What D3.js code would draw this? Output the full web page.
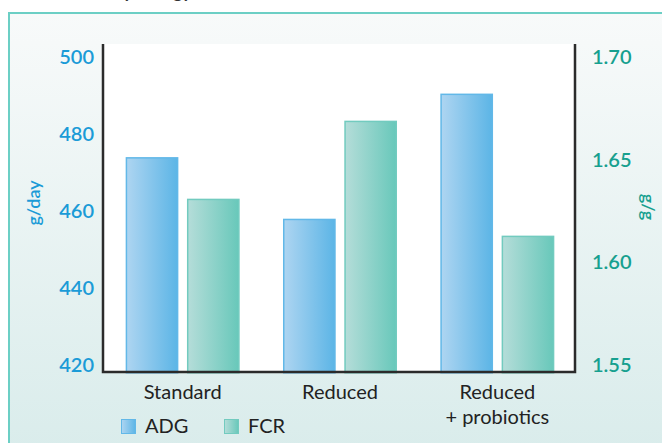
<!DOCTYPE html>
<html lang="en">
<head>
    <meta charset="UTF-8">
    <title>ADG and FCR by diet</title>
    <script src="https://d3js.org/d3.v7.min.js"></script>
    <style>
        body, html { margin: 0; padding: 0; background: #fff; }
        svg { display: block; font-family: Lato, "Open Sans", sans-serif; }
    </style>
</head>
<body>
    <div id="chart"></div>
    <script>
        // Data
        const categories = ["Standard", "Reduced", "Reduced\n+ probiotics"];
        const adgValues = [474, 458, 490.5];      // g/day, left axis
        const fcrValues = [1.631, 1.669, 1.613];  // g/g, right axis
        const adgTicks = [420, 440, 460, 480, 500];
        const fcrTicks = [1.55, 1.60, 1.65, 1.70];
        const seriesNames = ["ADG", "FCR"];

        const width = 662, height = 443;
        const svg = d3.select("#chart").append("svg")
            .attr("width", width)
            .attr("height", height);

        const defs = svg.append("defs");

        // Background panel gradient
        const bg = defs.append("linearGradient").attr("id", "bg")
            .attr("x1", 0).attr("y1", 0).attr("x2", 0).attr("y2", 1);
        bg.append("stop").attr("offset", "0%").attr("stop-color", "#f8fafa");
        bg.append("stop").attr("offset", "100%").attr("stop-color", "#d9eceb");

        // Bar gradients
        function barGradient(id, c1, c2) {
            const g = defs.append("linearGradient").attr("id", id)
                .attr("x1", 0).attr("y1", 0).attr("x2", 1).attr("y2", 0);
            g.append("stop").attr("offset", "0%").attr("stop-color", c1);
            g.append("stop").attr("offset", "100%").attr("stop-color", c2);
        }
        barGradient("gADG", "#aed5f1", "#5cb5e6");
        barGradient("gFCR", "#b5ddd9", "#68c8ba");

        const colors = {
            ADG: { fill: "url(#gADG)", stroke: "#62b8e8", text: "#1b9bd7" },
            FCR: { fill: "url(#gFCR)", stroke: "#72cbbf", text: "#17a08f" }
        };

        // Outer framed panel (cut off at right/bottom)
        svg.append("rect")
            .attr("x", 9).attr("y", 13)
            .attr("width", width + 20).attr("height", height)
            .attr("fill", "url(#bg)")
            .attr("stroke", "#6ccfc5")
            .attr("stroke-width", 2);

        // Title remnant at the very top (only descenders show)
        svg.append("text")
            .attr("x", 192).attr("y", -2)
            .attr("text-anchor", "end")
            .attr("font-size", 18)
            .attr("font-weight", "bold")
            .attr("fill", "#333")
            .text("Dietary energy");

        const plotLeft = 103, plotRight = 575, plotTop = 44, plotBottom = 372;

        // White plot area
        svg.append("rect")
            .attr("x", plotLeft).attr("y", plotTop)
            .attr("width", plotRight - plotLeft).attr("height", plotBottom - plotTop)
            .attr("fill", "#fff");

        const yLeft = d3.scaleLinear().domain([420, 500]).range([365, 57]);
        const yRight = d3.scaleLinear().domain([1.55, 1.70]).range([365, 57]);

        const x0 = d3.scaleBand().domain(categories)
            .range([plotLeft, plotRight]).paddingInner(0).paddingOuter(0);
        const x1 = d3.scaleBand().domain(seriesNames)
            .range([0, 114]).paddingInner(0.14);
        const groupOffset = (x0.bandwidth() - 114) / 2 + 1;

        const rows = categories.map((c, i) => ({
            cat: c,
            bars: [
                { key: "ADG", top: yLeft(adgValues[i]) },
                { key: "FCR", top: yRight(fcrValues[i]) }
            ]
        }));

        const groups = svg.selectAll(".group").data(rows).enter()
            .append("g")
            .attr("class", "group")
            .attr("transform", d => `translate(${x0(d.cat) + groupOffset},0)`);

        groups.selectAll("rect").data(d => d.bars).enter()
            .append("rect")
            .attr("x", d => x1(d.key) + 0.75)
            .attr("y", d => d.top + 0.75)
            .attr("width", x1.bandwidth() - 1.5)
            .attr("height", d => plotBottom - d.top)
            .attr("fill", d => colors[d.key].fill)
            .attr("stroke", d => colors[d.key].stroke)
            .attr("stroke-width", 1.5);

        // Axis lines
        const axisColor = "#2b2b2b";
        svg.append("path")
            .attr("d", `M${plotLeft},${plotTop} V${plotBottom} H${plotRight} V${plotTop}`)
            .attr("fill", "none")
            .attr("stroke", axisColor)
            .attr("stroke-width", 2.5);

        // Left axis labels
        const leftAxis = d3.axisLeft(yLeft).tickValues(adgTicks)
            .tickSize(0).tickPadding(0).tickFormat(d3.format("d"));
        const gl = svg.append("g").attr("transform", "translate(94,0)").call(leftAxis);
        gl.select(".domain").remove();
        gl.selectAll("text")
            .attr("fill", colors.ADG.text)
            .attr("font-size", 20)
            .attr("font-weight", 600)
            .attr("font-family", "Lato, sans-serif");

        // Right axis labels
        const rightAxis = d3.axisRight(yRight).tickValues(fcrTicks)
            .tickSize(0).tickPadding(0).tickFormat(d3.format(".2f"));
        const gr = svg.append("g").attr("transform", "translate(592,0)").call(rightAxis);
        gr.select(".domain").remove();
        gr.selectAll("text")
            .attr("fill", colors.FCR.text)
            .attr("font-size", 20)
            .attr("font-weight", 600)
            .attr("font-family", "Lato, sans-serif");

        // Axis titles
        svg.append("text")
            .attr("transform", "translate(40,203) rotate(-90)")
            .attr("text-anchor", "middle")
            .attr("font-size", 18)
            .attr("font-weight", 600)
            .attr("fill", colors.ADG.text)
            .text("g/day");
        svg.append("text")
            .attr("transform", "translate(642,207) rotate(90)")
            .attr("text-anchor", "middle")
            .attr("font-size", 18)
            .attr("font-weight", 600)
            .attr("fill", colors.FCR.text)
            .text("g/g");

        // Category labels
        svg.selectAll(".cat").data(categories).enter()
            .append("text")
            .attr("class", "cat")
            .attr("text-anchor", "middle")
            .attr("font-size", 20)
            .attr("fill", "#222")
            .attr("transform", d => `translate(${x0(d) + x0.bandwidth() / 2 + 1},399)`)
            .selectAll("tspan").data(d => d.split("\n")).enter()
            .append("tspan")
            .attr("x", 0)
            .attr("dy", (d, i) => i === 0 ? 0 : 25)
            .text(d => d);

        // Legend
        const legendX = [121, 224];
        const legend = svg.selectAll(".legend").data(seriesNames).enter()
            .append("g")
            .attr("class", "legend")
            .attr("transform", (d, i) => `translate(${legendX[i]},419)`);
        legend.append("rect")
            .attr("x", 0.5).attr("y", 0.5)
            .attr("width", 14).attr("height", 14)
            .attr("fill", d => colors[d].fill)
            .attr("stroke", d => colors[d].stroke)
            .attr("stroke-width", 1);
        legend.append("text")
            .attr("x", 24).attr("y", 14)
            .attr("font-size", 20)
            .attr("fill", "#222")
            .text(d => d);
    </script>
</body>
</html>
